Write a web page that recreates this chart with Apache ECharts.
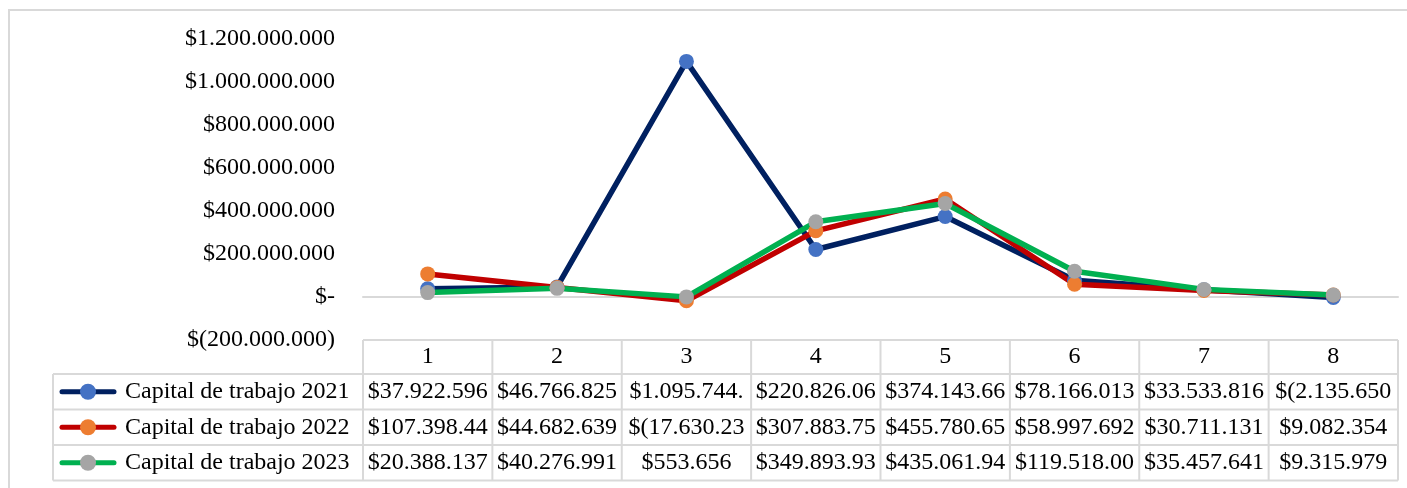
<!DOCTYPE html>
<html>
<head>
<meta charset="utf-8">
<script src="https://cdn.jsdelivr.net/npm/echarts@6/dist/echarts.min.js"></script>
<style>
  html, body { margin: 0; padding: 0; background: #fff; }
  #chart { width: 1407px; height: 488px; }
</style>
</head>
<body>
<div id="chart"></div>
<script>
// Periods along the horizontal axis
const periods = ['1', '2', '3', '4', '5', '6', '7', '8'];

// Working capital per period (COP)
const capital2021 = [37922596, 46766825, 1095744318, 220826064, 374143662, 78166013, 33533816, -2135650];
const capital2022 = [107398447, 44682639, -17630234, 307883753, 455780651, 58997692, 30711131, 9082354];
const capital2023 = [20388137, 40276991, 553656, 349893934, 435061942, 119518004, 35457641, 9315979];

const seriesNames = ['Capital de trabajo 2021', 'Capital de trabajo 2022', 'Capital de trabajo 2023'];

// Value axis range and step
const yMin = -200000000;
const yMax = 1200000000;
const yStep = 200000000;

const FONT = "'Liberation Serif', 'Times New Roman', serif";
const lineColors = ['#002060', '#C00000', '#00B050'];
const markerColors = ['#4472C4', '#ED7D31', '#A5A5A5'];
const GRID_COLOR = '#d9d9d9';

// Accounting-style currency: dots as thousands separator, negatives in parentheses
function money(v) {
  if (v === 0) return '$-';
  const s = Math.abs(Math.round(v)).toString().replace(/\B(?=(\d{3})+(?!\d))/g, '.');
  return v < 0 ? '$(' + s + ')' : '$' + s;
}

const allSeries = [capital2021, capital2022, capital2023];

const chart = echarts.init(document.getElementById('chart'), null, { renderer: 'canvas' });

chart.setOption({
  animation: false,
  backgroundColor: '#ffffff',
  grid: { left: 363, right: 9, top: 39, bottom: 148, containLabel: false },
  xAxis: {
    type: 'category',
    data: periods,
    boundaryGap: true,
    axisLine: { show: true, onZero: true, lineStyle: { color: GRID_COLOR, width: 2 } },
    axisTick: { show: false },
    axisLabel: { show: false },
    splitLine: { show: false }
  },
  yAxis: {
    type: 'value',
    min: yMin,
    max: yMax,
    interval: yStep,
    axisLine: { show: false },
    axisTick: { show: false },
    splitLine: { show: false },
    axisLabel: {
      formatter: money,
      fontFamily: FONT,
      fontSize: 24,
      color: '#000',
      margin: 28
    }
  },
  series: allSeries.map((data, i) => ({
    name: seriesNames[i],
    type: 'line',
    data: data,
    symbol: 'circle',
    symbolSize: 15,
    lineStyle: { color: lineColors[i], width: 5.5, cap: 'round', join: 'round' },
    itemStyle: { color: markerColors[i], borderWidth: 0 },
    emphasis: { disabled: true }
  }))
});

// Data table under the plot, aligned to the category bands
function buildTable() {
  const centers = periods.map((p, i) => chart.convertToPixel({ xAxisIndex: 0 }, i));
  const band = centers[1] - centers[0];
  const left = centers[0] - band / 2;
  const right = centers[centers.length - 1] + band / 2;
  const tableTop = chart.convertToPixel({ yAxisIndex: 0 }, yMin);
  const headerBottom = tableTop + 34;
  const rowH = 35.5;
  const keyLeft = 53;
  const tableBottom = headerBottom + rowH * allSeries.length;

  const els = [];
  const line = (x1, y1, x2, y2) => els.push({
    type: 'line', silent: true,
    shape: { x1, y1, x2, y2 },
    style: { stroke: GRID_COLOR, lineWidth: 2 }
  });

  // Outer chart frame
  els.push({
    type: 'rect', silent: true,
    shape: { x: 9, y: 10, width: 1500, height: 600 },
    style: { fill: null, stroke: GRID_COLOR, lineWidth: 2 }
  });

  // Horizontal rules
  line(left, tableTop, right, tableTop);
  line(keyLeft, headerBottom, right, headerBottom);
  for (let r = 1; r <= allSeries.length; r++) {
    line(keyLeft, headerBottom + rowH * r, right, headerBottom + rowH * r);
  }
  // Vertical rules
  line(keyLeft, headerBottom, keyLeft, tableBottom);
  for (let c = 0; c <= periods.length; c++) {
    const x = left + band * c;
    line(x, tableTop, x, tableBottom);
  }

  // Header labels
  periods.forEach((p, i) => {
    els.push({
      type: 'text', silent: true,
      style: {
        text: p, x: centers[i], y: (tableTop + headerBottom) / 2,
        align: 'center', verticalAlign: 'middle',
        font: '24px ' + FONT, fill: '#000'
      }
    });
  });

  // Series rows: legend key, name and values
  allSeries.forEach((data, r) => {
    const cy = headerBottom + rowH * r + rowH / 2;
    els.push({
      type: 'line', silent: true,
      shape: { x1: 62, y1: cy, x2: 114, y2: cy },
      style: { stroke: lineColors[r], lineWidth: 5, lineCap: 'round' }
    });
    els.push({
      type: 'circle', silent: true,
      shape: { cx: 88, cy: cy, r: 8 },
      style: { fill: markerColors[r] }
    });
    els.push({
      type: 'text', silent: true,
      style: {
        text: seriesNames[r], x: 125, y: cy,
        align: 'left', verticalAlign: 'middle',
        font: '24px ' + FONT, fill: '#000'
      }
    });
    data.forEach((v, i) => {
      els.push({
        type: 'text', silent: true,
        style: {
          text: money(v), x: centers[i], y: cy,
          align: 'center', verticalAlign: 'middle',
          width: band - 6, overflow: 'truncate', ellipsis: '',
          font: '24px ' + FONT, fill: '#000'
        }
      });
    });
  });

  chart.setOption({ graphic: { elements: els } });
}

buildTable();
</script>
</body>
</html>
